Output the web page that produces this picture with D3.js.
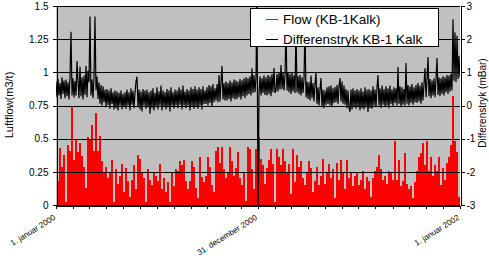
<!DOCTYPE html>
<html>
<head>
<meta charset="utf-8">
<script src="https://cdn.jsdelivr.net/npm/d3@7"></script>
<style>
  body { margin: 0; background: #fff; }
  svg { display: block; font-family: "Liberation Sans", Arial, sans-serif; }
</style>
</head>
<body>
<div id="chart"></div>
<script>
// Luftflow (m3/t), left axis - red columns
const flow = [
  0.18, 0.43, 0.29, 0.38, 0.02, 0.45, 0.41, 0.75, 0.34, 0.49,
  0.40, 0.47, 0.37, 0.29, 0.13, 0.51, 0.49, 0.60, 0.41, 0.69,
  0.41, 0.52, 0.33, 0.24, 0.29, 0.20, 0.24, 0.34, 0.02, 0.27,
  0.16, 0.22, 0.31, 0.10, 0.28, 0.18, 0.06, 0.19, 0.30, 0.12,
  0.38, 0.35, 0.25, 0.20, 0.02, 0.27, 0.19, 0.15, 0.25, 0.22,
  0.18, 0.31, 0.12, 0.20, 0.10, 0.17, 0.02, 0.25, 0.14, 0.27,
  0.26, 0.33, 0.30, 0.34, 0.18, 0.12, 0.18, 0.33, 0.29, 0.13,
  0.05, 0.36, 0.21, 0.17, 0.22, 0.36, 0.29, 0.15, 0.10, 0.41,
  0.44, 0.32, 0.44, 0.27, 0.20, 0.24, 0.44, 0.33, 0.22, 0.28,
  0.40, 0.20, 0.15, 0.24, 0.03, 0.44, 0.42, 0.27, 0.12, 0.42,
  0.38, 0.51, 0.35, 0.30, 0.16, 0.28, 0.34, 0.42, 0.31, 0.02,
  0.42, 0.36, 0.30, 0.42, 0.33, 0.25, 0.31, 0.08, 0.42, 0.17,
  0.38, 0.29, 0.33, 0.20, 0.15, 0.25, 0.33, 0.28, 0.10, 0.18,
  0.29, 0.15, 0.22, 0.35, 0.16, 0.24, 0.31, 0.20, 0.27, 0.05,
  0.32, 0.19, 0.34, 0.24, 0.12, 0.34, 0.20, 0.25, 0.14, 0.22,
  0.24, 0.15, 0.19, 0.26, 0.12, 0.21, 0.18, 0.06, 0.20, 0.26,
  0.29, 0.38, 0.27, 0.19, 0.22, 0.16, 0.26, 0.24, 0.19, 0.48,
  0.19, 0.34, 0.14, 0.18, 0.39, 0.16, 0.12, 0.14, 0.05, 0.17,
  0.26, 0.36, 0.39, 0.47, 0.30, 0.48, 0.26, 0.36, 0.22, 0.30,
  0.26, 0.36, 0.15, 0.28, 0.19, 0.32, 0.36, 0.45, 0.82, 0.48,
  0.40, 0.06
];

// Differenstryk (mBar), right axis - black line
const diffPressure = [
  0.72, 0.25, 0.80, 0.30, 0.68, 0.20, 0.85, 0.35, 0.75, 0.22,
  0.78, 0.28, 0.70, 0.18, 0.88, 2.22, 0.30, 0.82, 0.24, 0.74,
  0.30, 1.34, 0.72, 0.22, 1.17, 0.28, 0.85, 0.18, 0.90, 0.32,
  1.20, 0.25, 1.05, 0.70, 2.68, 0.30, 0.78, 0.22, 0.86, 2.68,
  0.45, 0.87, 0.20, 0.70, 0.05, 0.62, 0.00, 0.58, 0.10, 0.48,
  -0.05, 0.50, 0.02, 0.45, -0.10, 0.52, 0.05, 0.40, -0.12, 0.45,
  -0.08, 0.42, -0.15, 0.38, 0.00, 0.45, -0.12, 0.35, -0.05, 0.40,
  -0.10, 0.48, 0.00, 0.40, -0.15, 0.52, 0.02, 0.44, -0.08, 0.38,
  0.72, 0.87, -0.05, 0.48, -0.12, 0.42, -0.18, 0.50, 0.00, 0.45,
  -0.10, 0.48, -0.05, 0.40, -0.25, 0.45, -0.08, 0.52, -0.15, 0.38,
  -0.05, 0.55, -0.12, 0.42, 0.00, 0.60, -0.15, 0.45, -0.02, 0.40,
  -0.12, 0.50, -0.05, 0.45, -0.18, 0.55, 0.00, 0.40, -0.10, 0.48,
  0.00, 0.45, -0.08, 0.55, 0.02, 0.48, -0.12, 0.60, 0.00, 0.42,
  -0.08, 0.50, 0.00, 0.45, -0.15, 0.55, -0.02, 0.50, -0.10, 0.58,
  -0.02, 0.48, -0.10, 0.55, 0.00, 0.50, -0.12, 0.58, 0.05, 0.45,
  0.05, 0.55, 0.00, 0.62, 0.08, 0.58, -0.02, 0.65, 0.10, 0.52,
  0.15, 0.65, 0.10, 0.92, 0.12, 0.70, 1.19, 0.18, 0.68, 0.15,
  0.72, 0.15, 0.68, 0.20, 0.75, 0.12, 0.70, 0.22, 0.78, 0.18,
  0.75, 0.20, 0.72, 0.25, 0.80, 0.18, 0.76, 0.28, 0.82, 0.22,
  0.85, 0.30, 0.82, 0.35, 0.88, 0.30, 1.12, 0.38, 0.92, 0.40,
  0.85, 3.50, -3.50, 0.35, 0.88, 0.30, 0.82, 0.38, 0.90, 0.32,
  0.85, 0.30, 0.92, 0.35, 0.88, 0.28, 0.95, 0.40, 1.13, 0.38,
  0.45, 0.95, 0.42, 1.00, 0.48, 1.22, 0.50, 0.98, 0.45, 0.92,
  2.40, 0.45, 1.00, 0.40, 0.95, 0.35, 0.98, 0.42, 0.90, 0.38,
  2.40, 0.40, 0.88, 0.35, 0.92, 0.30, 0.85, 0.38, 0.80, 2.40,
  0.25, 0.72, 0.20, 0.70, 0.15, 0.90, 0.22, 0.68, 0.12, 0.65,
  0.98, 0.05, 0.55, 0.00, 0.50, 0.83, -0.05, 0.48, -0.08, 0.45,
  0.02, 0.55, 0.05, 0.58, 0.00, 0.60, -0.05, 0.52, 0.08, 0.56,
  0.10, 0.62, 0.05, 0.58, 0.83, 0.12, 0.72, 0.05, 0.60, 0.02,
  0.50, -0.08, 0.45, -0.05, -0.19, 0.48, -0.12, 0.52, -0.05, 0.45,
  -0.10, 0.50, -0.05, 0.45, -0.15, 0.52, -0.08, 0.42, -0.12, 0.55,
  -0.05, 0.48, -0.20, 0.50, -0.08, 0.45, -0.10, 0.58, 0.00, 0.48,
  -0.05, 0.55, 0.92, 0.00, 0.52, -0.08, 0.60, 0.02, 0.50, -0.05,
  0.58, 0.00, 0.52, -0.08, 0.60, 0.05, 0.48, -0.02, 0.55, 0.08,
  0.52, 0.00, 1.16, 0.05, 0.58, -0.05, 0.55, 0.02, 0.50, 0.00,
  1.28, 0.05, 0.62, 0.00, 0.58, 0.08, 0.65, 0.02, 0.55, 0.10,
  0.62, 0.08, 0.68, 0.12, 0.60, 0.05, 0.70, 0.15, 0.65, 1.12,
  0.25, 0.78, 1.46, 0.28, 0.80, 0.22, 0.75, 0.30, 0.82, 0.25,
  0.80, 1.43, 0.32, 0.85, 0.28, 0.82, 0.35, 0.88, 0.30, 0.85,
  0.40, 0.92, 0.35, 0.90, 0.42, 0.95, 0.45, 2.60, 0.75, 2.20,
  0.70, 2.10, 0.80, 1.50, 0.85
];

const leftTicks = [0, 0.25, 0.5, 0.75, 1, 1.25, 1.5];
const rightTicks = [-3, -2, -1, 0, 1, 2, 3];
const labelDates = ["2000-01-01", "2000-12-31", "2002-01-01"];
const labelTexts = ["1. januar 2000", "31. december 2000", "1. januar 2002"];
const seriesNames = ["Flow (KB-1Kalk)", "Differenstryk KB-1 Kalk"];
const seriesColors = ["#ff0000", "#000000"];

const width = 489, height = 259;
const plot = { left: 56, right: 460, top: 6, bottom: 205 };

const svg = d3.select("#chart").append("svg")
  .attr("width", width)
  .attr("height", height);

const parse = d3.timeParse("%Y-%m-%d");

const xTime = d3.scaleTime()
  .domain([parse("2000-01-01"), parse("2002-01-01")])
  .range([plot.left, plot.right]);

const xBar = d3.scaleBand()
  .domain(d3.range(flow.length))
  .range([plot.left + 1, plot.right])
  .padding(0);

const xLine = d3.scaleLinear()
  .domain([0, diffPressure.length - 1])
  .range([plot.left, plot.right]);

const yLeft = d3.scaleLinear().domain([0, 1.5]).range([plot.bottom, plot.top]);
const yRight = d3.scaleLinear().domain([-3, 3]).range([plot.bottom, plot.top]);

svg.append("clipPath").attr("id", "clip")
  .append("rect")
  .attr("x", plot.left).attr("y", plot.top)
  .attr("width", plot.right - plot.left)
  .attr("height", plot.bottom - plot.top);

// plot background
svg.append("rect")
  .attr("x", plot.left).attr("y", plot.top)
  .attr("width", plot.right - plot.left)
  .attr("height", plot.bottom - plot.top)
  .attr("fill", "#c0c0c0");

// red columns
svg.append("g")
  .attr("shape-rendering", "crispEdges")
  .selectAll("rect")
  .data(flow)
  .join("rect")
  .attr("x", (d, i) => xBar(i))
  .attr("width", xBar.bandwidth())
  .attr("y", d => yLeft(d))
  .attr("height", d => yLeft(0) - yLeft(d))
  .attr("fill", "#ff0000");

// gridlines
svg.append("g")
  .selectAll("line")
  .data(leftTicks)
  .join("line")
  .attr("x1", plot.left).attr("x2", plot.right)
  .attr("y1", d => Math.round(yLeft(d)) + 0.5)
  .attr("y2", d => Math.round(yLeft(d)) + 0.5)
  .attr("stroke", "#000")
  .attr("stroke-width", 1);

// black line
svg.append("path")
  .datum(diffPressure)
  .attr("clip-path", "url(#clip)")
  .attr("fill", "none")
  .attr("stroke", "#000")
  .attr("stroke-width", 1.2)
  .attr("d", d3.line()
    .x((d, i) => xLine(i))
    .y(d => yRight(d)));

// axes
const axLeft = svg.append("g")
  .attr("transform", `translate(${plot.left + 0.5},0)`)
  .call(d3.axisLeft(yLeft).tickValues(leftTicks).tickFormat(d => String(d))
    .tickSize(4).tickSizeOuter(0).tickPadding(4));

const axRight = svg.append("g")
  .attr("transform", `translate(${plot.right + 0.5},0)`)
  .call(d3.axisRight(yRight).tickValues(rightTicks).tickFormat(d => String(d))
    .tickSize(4).tickSizeOuter(0).tickPadding(2));

const axBottom = svg.append("g")
  .attr("transform", `translate(0,${plot.bottom + 0.5})`)
  .call(d3.axisBottom(xTime).ticks(d3.timeMonth.every(1)).tickFormat("")
    .tickSize(3).tickSizeOuter(0));

[axLeft, axRight, axBottom].forEach(g => {
  g.selectAll("path, line").attr("stroke", "#000").attr("shape-rendering", "crispEdges");
  g.selectAll("text").attr("font-size", 10).attr("fill", "#000")
    .attr("font-family", "'Liberation Sans', Arial, sans-serif");
});

// date labels
svg.append("g")
  .selectAll("text")
  .data(labelDates)
  .join("text")
  .attr("transform", d => `translate(${xTime(parse(d))},219) rotate(-32)`)
  .attr("text-anchor", "end")
  .attr("font-size", 8)
  .attr("fill", "#000")
  .text((d, i) => labelTexts[i]);

// axis titles
svg.append("text")
  .attr("transform", `translate(13,105) rotate(-90)`)
  .attr("text-anchor", "middle")
  .attr("font-size", 11)
  .text("Luftflow(m3/t)");

svg.append("text")
  .attr("transform", `translate(486,103) rotate(-90)`)
  .attr("text-anchor", "middle")
  .attr("font-size", 10)
  .text("Differenstryk (mBar)");

// legend
const legend = svg.append("g");
legend.append("rect")
  .attr("x", 250.5).attr("y", 8.5)
  .attr("width", 188).attr("height", 38)
  .attr("fill", "#fff").attr("stroke", "#000");

seriesNames.forEach((name, i) => {
  const ly = 19.5 + i * 20;
  legend.append("line")
    .attr("x1", 266).attr("x2", 278)
    .attr("y1", ly).attr("y2", ly)
    .attr("stroke", seriesColors[i]);
  legend.append("text")
    .attr("x", 283).attr("y", ly)
    .attr("dy", "0.35em")
    .attr("font-size", 13.5)
    .text(name);
});
</script>
</body>
</html>
